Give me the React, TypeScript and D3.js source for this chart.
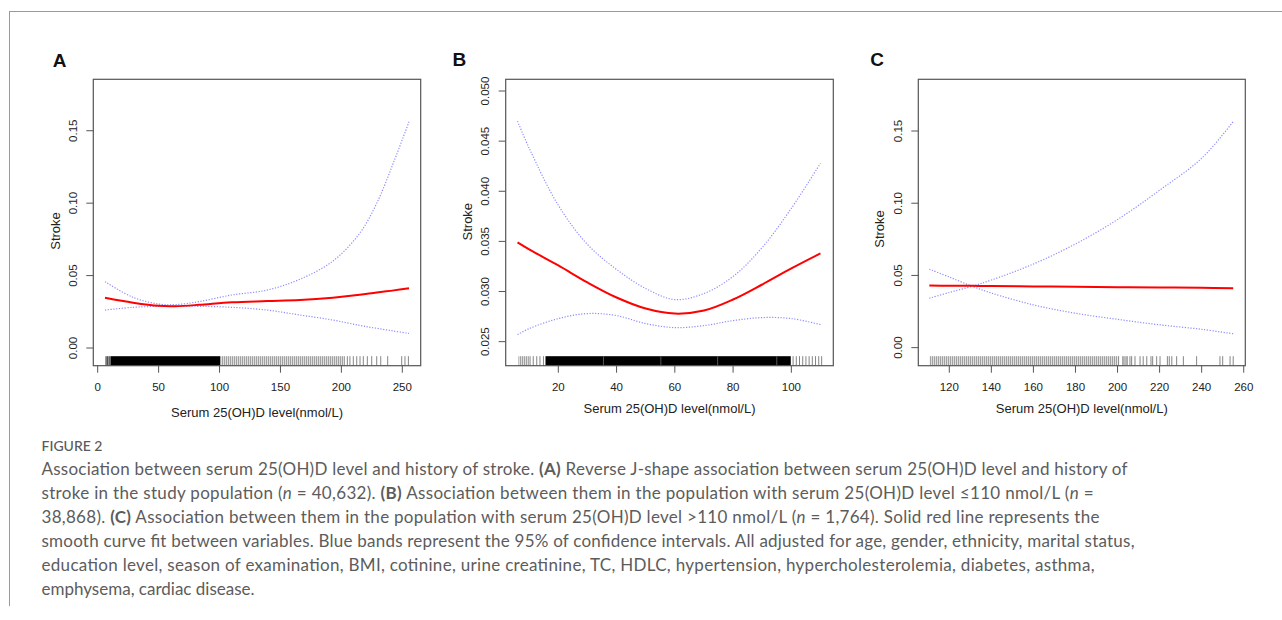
import React from 'react';
import * as d3 from 'd3';

// ---------- Data ----------
// Panel A: full population
const xA = [6, 29, 50, 64, 83, 110, 139, 166, 193, 215, 229, 243, 255.5];
const fitA = [0.0347, 0.0313, 0.0291, 0.0289, 0.0298, 0.0316, 0.0324, 0.0331, 0.0347, 0.0367, 0.0384, 0.0398, 0.0412];
const upperA = [0.0458, 0.035, 0.0304, 0.03, 0.032, 0.0366, 0.04, 0.0475, 0.06, 0.0792, 0.0999, 0.1285, 0.1562];
const lowerA = [0.0262, 0.0281, 0.0288, 0.0289, 0.0288, 0.0281, 0.0262, 0.0228, 0.0193, 0.0156, 0.0136, 0.0117, 0.0101];
const xTicksA = [0, 50, 100, 150, 200, 250];
const yTicksA = [0, 0.05, 0.1, 0.15];
const yLabelsA = ['0.00', '0.05', '0.10', '0.15'];
const rugBandsA = [
  { from: 6.2, to: 10.9, tone: 'mid' },
  { from: 10.9, to: 100.4, tone: 'solid' },
  { from: 100.4, to: 203, tone: 'light' },
];
const rugTicksA = [204.9, 207, 209.8, 212.6, 215.3, 218, 221.3, 224.9, 229, 232.3, 238, 249.5, 252.2, 255];
const rugGapsA: number[] = [];

// Panel B: serum 25(OH)D <= 110
const xB = [6, 10, 20, 30, 40, 50, 60, 70, 80, 90, 100, 110];
const fitB = [0.0349, 0.0342, 0.0326, 0.0309, 0.0294, 0.0283, 0.0278, 0.0281, 0.0292, 0.0307, 0.0323, 0.0338];
const upperB = [0.047, 0.0443, 0.0386, 0.0347, 0.0322, 0.0303, 0.0292, 0.0298, 0.0315, 0.0344, 0.0383, 0.0428];
const lowerB = [0.0257, 0.0263, 0.0273, 0.0278, 0.0276, 0.0268, 0.0264, 0.0266, 0.0271, 0.0274, 0.0273, 0.0267];
const xTicksB = [20, 40, 60, 80, 100];
const yTicksB = [0.025, 0.03, 0.035, 0.04, 0.045, 0.05];
const yLabelsB = ['0.025', '0.030', '0.035', '0.040', '0.045', '0.050'];
const rugBandsB = [
  { from: 6.3, to: 9.9, tone: 'light' },
  { from: 15.6, to: 99.8, tone: 'solid' },
];
const rugTicksB = [10.3, 11.4, 12.6, 13.7, 14.9, 100.6, 101.7, 102.8, 103.9, 105, 106.1, 107.2, 108.3, 109.4, 110.4];
const rugGapsB = [35.5, 55.2, 74.7, 95];

// Panel C: serum 25(OH)D > 110
const xC = [110.5, 120, 131, 140, 160, 180, 200, 220, 240, 255];
const fitC = [0.043, 0.0429, 0.0428, 0.0427, 0.0424, 0.0422, 0.0419, 0.0417, 0.0414, 0.0412];
const upperC = [0.0342, 0.0382, 0.0426, 0.0468, 0.0579, 0.0718, 0.0887, 0.109, 0.1311, 0.1565];
const lowerC = [0.0543, 0.0489, 0.0424, 0.0378, 0.0296, 0.0238, 0.0196, 0.0158, 0.0127, 0.0096];
const xTicksC = [120, 140, 160, 180, 200, 220, 240, 260];
const yTicksC = [0, 0.05, 0.1, 0.15];
const yLabelsC = ['0.00', '0.05', '0.10', '0.15'];
const rugBandsC = [{ from: 110.7, to: 200, tone: 'light' }];
const rugTicksC = [200.5, 202.5, 203.1, 204, 204.6, 205.9, 206.7, 208.3, 210.7, 212.2, 213.9, 215.9, 216.7, 218.6, 220.2, 223.7, 224.6, 225.8, 228.1, 231.3, 237.6, 248.7, 250, 253.5, 255];
const rugGapsC: number[] = [];

const xTitle = 'Serum 25(OH)D level(nmol/L)';
const yTitle = 'Stroke';

const FONT = '"Liberation Sans", Arial, Helvetica, sans-serif';
const CAP_FONT = 'Lato, "Open Sans", sans-serif';

type PanelProps = {
  id: string;
  label: string;
  labelX: number;
  labelY: number;
  box: [number, number, number, number];
  xDomain: [number, number];
  yDomain: [number, number];
  xs: number[];
  fit: number[];
  upper: number[];
  lower: number[];
  xTicks: number[];
  yTicks: number[];
  yLabels: string[];
  bands: { from: number; to: number; tone: string }[];
  rugTicks: number[];
  rugGaps: number[];
  titleY: number;
  strokeX: number;
  strokeY: number;
};

function Panel(p: PanelProps) {
  const [x0, y0, x1, y1] = p.box;
  const x = d3.scaleLinear().domain(p.xDomain).range([x0, x1]);
  const y = d3.scaleLinear().domain(p.yDomain).range([y1, y0]);
  const line = d3
    .line<number>()
    .x((_, i) => x(p.xs[i]))
    .y((d) => y(d))
    .curve(d3.curveCatmullRom.alpha(0.5));
  const rugTop = y1 - 9.5;
  const fills: Record<string, string> = { solid: '#000', light: 'url(#rugLight)', mid: 'url(#rugMid)' };
  return (
    <g>
      <text x={p.labelX} y={p.labelY} fontFamily={FONT} fontWeight="bold" fontSize={19} textAnchor="middle" fill="#111">
        {p.label}
      </text>
      {/* rug */}
      {p.bands.map((b, i) => (
        <rect key={'b' + i} x={x(b.from)} y={rugTop} width={x(b.to) - x(b.from)} height={y1 - rugTop} fill={fills[b.tone]} />
      ))}
      {p.rugGaps.map((v, i) => (
        <line key={'g' + i} x1={x(v)} x2={x(v)} y1={rugTop} y2={y1} stroke="#555" strokeWidth={1} />
      ))}
      {p.rugTicks.map((v, i) => (
        <line key={'t' + i} x1={x(v)} x2={x(v)} y1={rugTop} y2={y1} stroke="#666" strokeWidth={0.8} />
      ))}
      {/* curves */}
      <path d={line(p.upper) || ''} fill="none" stroke="#8c8cff" strokeWidth={1.2} strokeDasharray="1.2 1.6" />
      <path d={line(p.lower) || ''} fill="none" stroke="#8c8cff" strokeWidth={1.2} strokeDasharray="1.2 1.6" />
      <path d={line(p.fit) || ''} fill="none" stroke="#f00" strokeWidth={2} />
      {/* box */}
      <rect x={x0} y={y0} width={x1 - x0} height={y1 - y0} fill="none" stroke="#555" strokeWidth={1.2} />
      {/* x axis */}
      {p.xTicks.map((t) => (
        <g key={'xt' + t}>
          <line x1={x(t)} x2={x(t)} y1={y1} y2={y1 + 7} stroke="#555" strokeWidth={1} />
          <text x={x(t)} y={y1 + 25} fontFamily={FONT} fontSize={11.5} textAnchor="middle" fill="#222">
            {t}
          </text>
        </g>
      ))}
      {/* y axis */}
      {p.yTicks.map((t, i) => (
        <g key={'yt' + t}>
          <line x1={x0 - 7} x2={x0} y1={y(t)} y2={y(t)} stroke="#555" strokeWidth={1} />
          <text
            transform={`translate(${x0 - 20.5},${y(t)}) rotate(-90)`}
            dy="0.35em"
            fontFamily={FONT}
            fontSize={11.5}
            textAnchor="middle"
            fill="#222"
          >
            {p.yLabels[i]}
          </text>
        </g>
      ))}
      <text x={(x0 + x1) / 2} y={p.titleY} fontFamily={FONT} fontSize={13} textAnchor="middle" fill="#222">
        {xTitle}
      </text>
      <text
        transform={`translate(${p.strokeX},${p.strokeY}) rotate(-90)`}
        dy="0.35em"
        fontFamily={FONT}
        fontSize={13}
        textAnchor="middle"
        fill="#222"
      >
        {yTitle}
      </text>
    </g>
  );
}

const captionColor = '#5c5c5c';

export default function App() {
  return (
    <svg width={1282} height={620} style={{ position: 'absolute', left: 0, top: 0, background: '#fff' }}>
      <defs>
        <pattern id="rugLight" width="2" height="20" patternUnits="userSpaceOnUse">
          <rect width="2" height="20" fill="#dedede" />
          <rect width="0.9" height="20" fill="#9a9a9a" />
        </pattern>
        <pattern id="rugMid" width="1.6" height="20" patternUnits="userSpaceOnUse">
          <rect width="1.6" height="20" fill="#aaa" />
          <rect width="0.9" height="20" fill="#444" />
        </pattern>
      </defs>
      <rect x={0} y={0} width={1282} height={620} fill="#fff" />
      {/* figure frame */}
      <line x1={9} x2={1282} y1={11.5} y2={11.5} stroke="#9a9a9a" strokeWidth={1} />
      <line x1={9.5} x2={9.5} y1={11} y2={606} stroke="#9a9a9a" strokeWidth={1} />

      <Panel
        id="A"
        label="A"
        labelX={59.7}
        labelY={66.7}
        box={[93.3, 79.3, 420.7, 365.7]}
        xDomain={[-3.6, 265.1]}
        yDomain={[-0.0122, 0.1855]}
        xs={xA}
        fit={fitA}
        upper={upperA}
        lower={lowerA}
        xTicks={xTicksA}
        yTicks={yTicksA}
        yLabels={yLabelsA}
        bands={rugBandsA}
        rugTicks={rugTicksA}
        rugGaps={rugGapsA}
        titleY={417}
        strokeX={55.3}
        strokeY={231}
      />
      <Panel
        id="B"
        label="B"
        labelX={459.3}
        labelY={65.8}
        box={[505.7, 79.3, 833.3, 365.7]}
        xDomain={[1.94, 114.4]}
        yDomain={[0.0226, 0.05117]}
        xs={xB}
        fit={fitB}
        upper={upperB}
        lower={lowerB}
        xTicks={xTicksB}
        yTicks={yTicksB}
        yLabels={yLabelsB}
        bands={rugBandsB}
        rugTicks={rugTicksB}
        rugGaps={rugGapsB}
        titleY={413}
        strokeX={467.3}
        strokeY={221.7}
      />
      <Panel
        id="C"
        label="C"
        labelX={877}
        labelY={65.8}
        box={[918.3, 79.3, 1245.3, 365.7]}
        xDomain={[105.26, 260.75]}
        yDomain={[-0.0125, 0.1858]}
        xs={xC}
        fit={fitC}
        upper={upperC}
        lower={lowerC}
        xTicks={xTicksC}
        yTicks={yTicksC}
        yLabels={yLabelsC}
        bands={rugBandsC}
        rugTicks={rugTicksC}
        rugGaps={rugGapsC}
        titleY={413}
        strokeX={879.5}
        strokeY={229}
      />

      {/* caption */}
      <text x={41.5} y={451} fontFamily={CAP_FONT} fontSize={14} fill="#5a5a5a" fontWeight={500}>
        FIGURE 2
      </text>
      <g fontFamily={CAP_FONT} fontSize={17} fill={captionColor}>
        <text x={41.5} y={475} textLength={1086} lengthAdjust="spacing">
          Association between serum 25(OH)D level and history of stroke. <tspan fontWeight="bold">(A)</tspan> Reverse
          J-shape association between serum 25(OH)D level and history of
        </text>
        <text x={41.5} y={499} textLength={1052} lengthAdjust="spacing">
          stroke in the study population (<tspan fontStyle="italic">n</tspan> = 40,632). <tspan fontWeight="bold">(B)</tspan>{' '}
          Association between them in the population with serum 25(OH)D level ≤110 nmol/L (
          <tspan fontStyle="italic">n</tspan> =
        </text>
        <text x={41.5} y={523} textLength={1058} lengthAdjust="spacing">
          38,868). <tspan fontWeight="bold">(C)</tspan> Association between them in the population with serum 25(OH)D level
          &gt;110 nmol/L (<tspan fontStyle="italic">n</tspan> = 1,764). Solid red line represents the
        </text>
        <text x={41.5} y={547} textLength={1093} lengthAdjust="spacing">
          smooth curve fit between variables. Blue bands represent the 95% of confidence intervals. All adjusted for age,
          gender, ethnicity, marital status,
        </text>
        <text x={41.5} y={571} textLength={1053} lengthAdjust="spacing">
          education level, season of examination, BMI, cotinine, urine creatinine, TC, HDLC, hypertension,
          hypercholesterolemia, diabetes, asthma,
        </text>
        <text x={41.5} y={595}>
          emphysema, cardiac disease.
        </text>
      </g>
    </svg>
  );
}
